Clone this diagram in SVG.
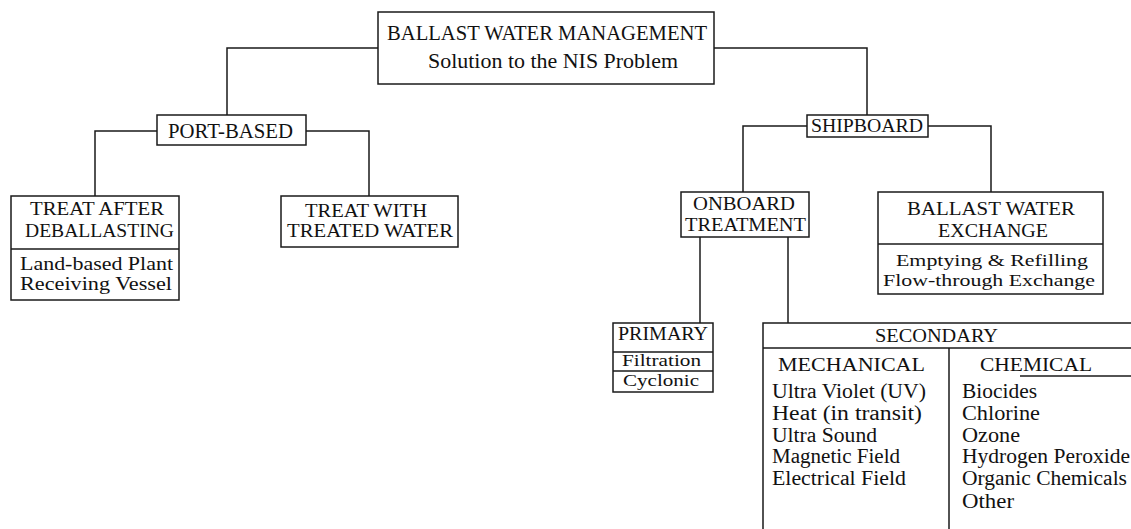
<svg xmlns="http://www.w3.org/2000/svg" width="1131" height="529" viewBox="0 0 1131 529">
<style>
.box{fill:#fff;stroke:#1a1a1a;stroke-width:1.5}
.ln{fill:none;stroke:#1a1a1a;stroke-width:1.5}
text{font-family:"Liberation Serif","Times New Roman",serif;font-size:21px;fill:#111}
.st{font-size:19px}
.sm{font-size:17px}
.li{font-size:20px}
</style>
<rect width="1131" height="529" fill="#fff"/>
<g id="connectors">
<path class="ln" d="M378,48 H227 V115"/>
<path class="ln" d="M714,48 H867 V115"/>
<path class="ln" d="M157,131 H95 V196"/>
<path class="ln" d="M306,131 H369 V196"/>
<path class="ln" d="M807,126 H743 V192"/>
<path class="ln" d="M928,126 H991 V192"/>
<path class="ln" d="M700,237 V323"/>
<path class="ln" d="M788,237 V323"/>
</g>
<g id="root">
<rect class="box" x="378" y="12" width="336" height="72"/>
<text x="387" y="40" textLength="320" lengthAdjust="spacingAndGlyphs">BALLAST WATER MANAGEMENT</text>
<text x="428" y="68" textLength="250" lengthAdjust="spacingAndGlyphs">Solution to the NIS Problem</text>
</g>
<g id="port-based">
<rect class="box" x="157" y="115" width="149" height="30"/>
<text x="168" y="138" textLength="125" lengthAdjust="spacingAndGlyphs">PORT-BASED</text>
</g>
<g id="treat-after">
<rect class="box" x="11" y="196" width="168" height="104"/>
<line class="ln" x1="11" y1="249" x2="179" y2="249"/>
<text class="st" x="30" y="215" textLength="134" lengthAdjust="spacingAndGlyphs">TREAT AFTER</text>
<text class="st" x="25" y="237" textLength="149" lengthAdjust="spacingAndGlyphs">DEBALLASTING</text>
<text class="st" x="20" y="270" textLength="153" lengthAdjust="spacingAndGlyphs">Land-based Plant</text>
<text class="st" x="20" y="290" textLength="152" lengthAdjust="spacingAndGlyphs">Receiving Vessel</text>
</g>
<g id="treat-with">
<rect class="box" x="281" y="196" width="177" height="51"/>
<text class="st" x="305" y="217" textLength="122" lengthAdjust="spacingAndGlyphs">TREAT WITH</text>
<text class="st" x="287" y="237" textLength="166" lengthAdjust="spacingAndGlyphs">TREATED WATER</text>
</g>
<g id="shipboard">
<rect class="box" x="807" y="115" width="121" height="22"/>
<text class="st" x="811" y="132" textLength="112" lengthAdjust="spacingAndGlyphs">SHIPBOARD</text>
</g>
<g id="onboard">
<rect class="box" x="681" y="192" width="128" height="45"/>
<text class="st" x="693" y="210" textLength="102" lengthAdjust="spacingAndGlyphs">ONBOARD</text>
<text class="st" x="685" y="231" textLength="121" lengthAdjust="spacingAndGlyphs">TREATMENT</text>
</g>
<g id="exchange">
<rect class="box" x="878" y="192" width="225" height="102"/>
<line class="ln" x1="878" y1="244" x2="1103" y2="244"/>
<text class="st" x="907" y="215" textLength="168" lengthAdjust="spacingAndGlyphs">BALLAST WATER</text>
<text class="st" x="938" y="237" textLength="110" lengthAdjust="spacingAndGlyphs">EXCHANGE</text>
<text class="sm" x="896" y="266" textLength="192" lengthAdjust="spacingAndGlyphs">Emptying &amp; Refilling</text>
<text class="sm" x="883" y="286" textLength="212" lengthAdjust="spacingAndGlyphs">Flow-through Exchange</text>
</g>
<g id="primary">
<rect class="box" x="613" y="323" width="100" height="69"/>
<line class="ln" x1="613" y1="352" x2="713" y2="352"/>
<line class="ln" x1="613" y1="371" x2="713" y2="371"/>
<text class="st" x="618" y="340" textLength="90" lengthAdjust="spacingAndGlyphs">PRIMARY</text>
<text class="sm" x="622" y="366" textLength="79" lengthAdjust="spacingAndGlyphs">Filtration</text>
<text class="sm" x="623" y="386" textLength="76" lengthAdjust="spacingAndGlyphs">Cyclonic</text>
</g>
<g id="secondary">
<rect class="box" x="763" y="323" width="380" height="220"/>
<line class="ln" x1="763" y1="348" x2="1131" y2="348"/>
<line class="ln" x1="949" y1="348" x2="949" y2="529"/>
<line class="ln" x1="1020" y1="376" x2="1131" y2="376"/>
<text class="st" x="875" y="342" textLength="123" lengthAdjust="spacingAndGlyphs">SECONDARY</text>
<text class="st" x="778" y="371" textLength="147" lengthAdjust="spacingAndGlyphs">MECHANICAL</text>
<text class="st" x="980" y="371" textLength="112" lengthAdjust="spacingAndGlyphs">CHEMICAL</text>
<text class="li" x="772" y="398" textLength="154" lengthAdjust="spacingAndGlyphs">Ultra Violet (UV)</text>
<text class="li" x="772" y="420" textLength="150" lengthAdjust="spacingAndGlyphs">Heat (in transit)</text>
<text class="li" x="772" y="442" textLength="105" lengthAdjust="spacingAndGlyphs">Ultra Sound</text>
<text class="li" x="772" y="463" textLength="128" lengthAdjust="spacingAndGlyphs">Magnetic Field</text>
<text class="li" x="772" y="485" textLength="134" lengthAdjust="spacingAndGlyphs">Electrical Field</text>
<text class="li" x="962" y="398" textLength="75" lengthAdjust="spacingAndGlyphs">Biocides</text>
<text class="li" x="962" y="420" textLength="78" lengthAdjust="spacingAndGlyphs">Chlorine</text>
<text class="li" x="962" y="442" textLength="58" lengthAdjust="spacingAndGlyphs">Ozone</text>
<text class="li" x="962" y="463" textLength="168" lengthAdjust="spacingAndGlyphs">Hydrogen Peroxide</text>
<text class="li" x="962" y="485" textLength="165" lengthAdjust="spacingAndGlyphs">Organic Chemicals</text>
<text class="li" x="962" y="508" textLength="52" lengthAdjust="spacingAndGlyphs">Other</text>
</g>
</svg>
